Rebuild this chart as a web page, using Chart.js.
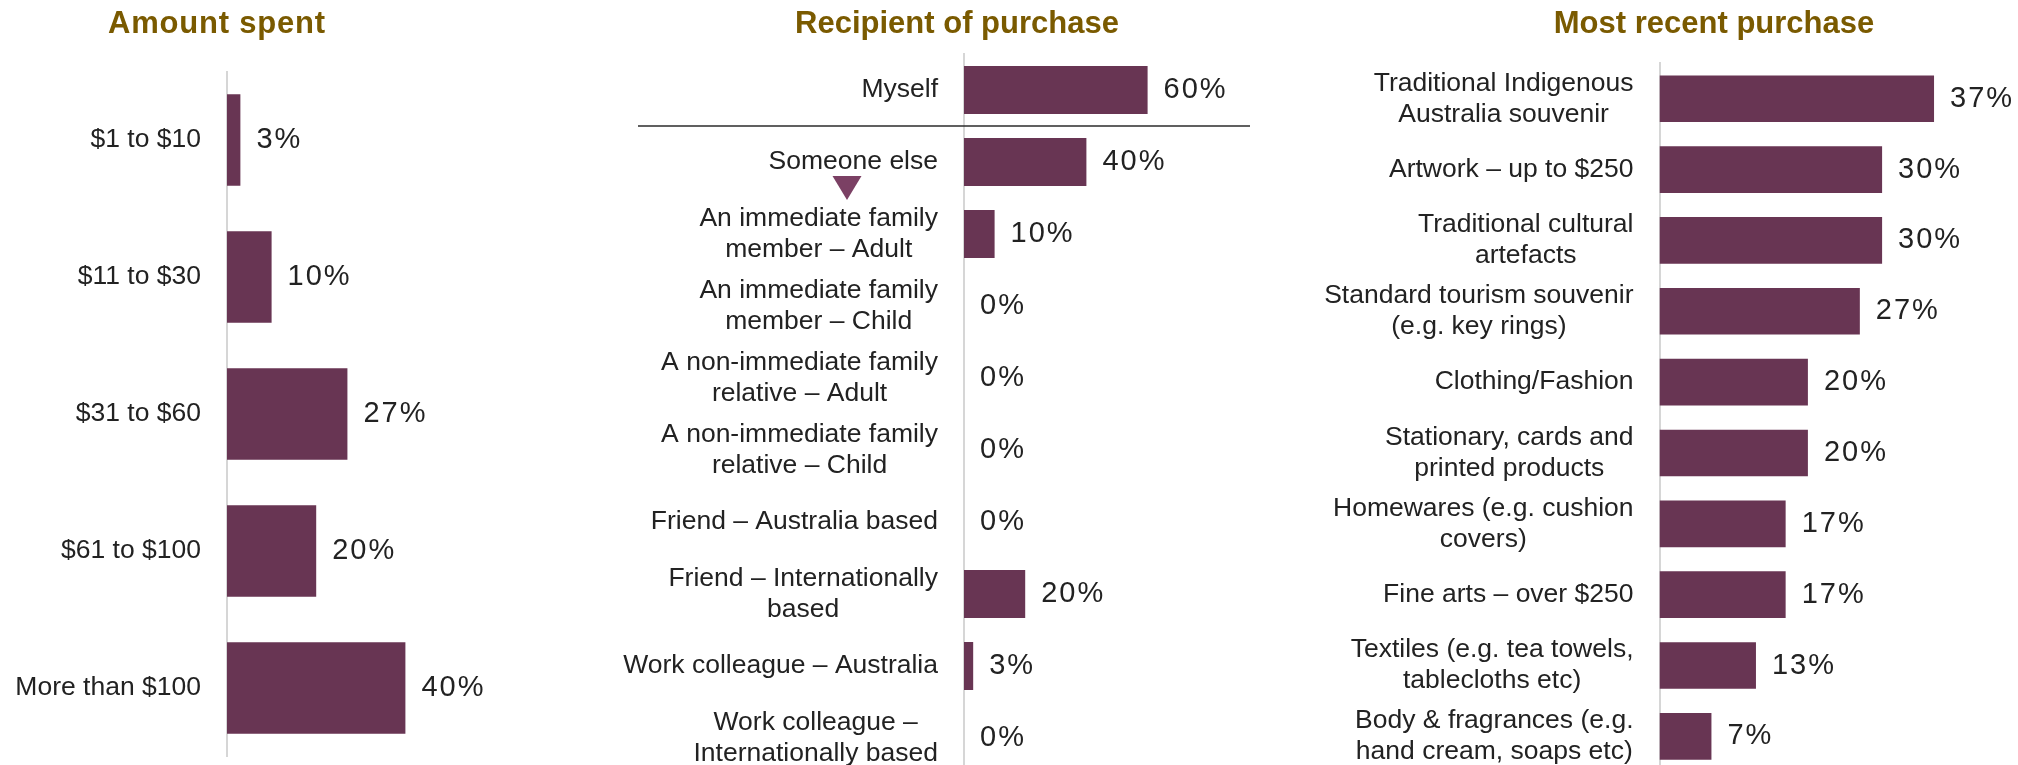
<!DOCTYPE html>
<html>
<head>
<meta charset="utf-8">
<script src="https://cdn.jsdelivr.net/npm/chart.js@4/dist/chart.umd.min.js"></script>
<style>
  body { margin: 0; width: 2018px; height: 765px; overflow: hidden; background: #fff; position: relative;
         font-family: "Liberation Sans", Arial, sans-serif; }
  canvas { position: absolute; top: 0; }
  .title { position: absolute; top: 7px; width: 420px; text-align: center; font-weight: bold;
           font-size: 31px; line-height: 31px; color: #7a5a00; }
</style>
</head>
<body>
<canvas id="amountChart" style="left:0px" width="580" height="765"></canvas>
<canvas id="recipientChart" style="left:600px" width="680" height="780"></canvas>
<canvas id="purchaseChart" style="left:1290px" width="728" height="780"></canvas>

<div class="title" style="left:7px; letter-spacing:0.8px">Amount spent</div>
<div class="title" style="left:747px">Recipient of purchase</div>
<div class="title" style="left:1504px">Most recent purchase</div>

<script>
//------ DONNEES --------//

// Montant dépensé
const amountLabels = ['$1 to $10', '$11 to $30', '$31 to $60', '$61 to $100', 'More than $100'];
const amountValues = [3, 10, 27, 20, 40];

// Destinataire de l'achat (les libellés sur deux lignes sont des tableaux)
const recipientLabels = [
  'Myself',
  'Someone else',
  ['An immediate family', 'member – Adult'],
  ['An immediate family', 'member – Child'],
  ['A non-immediate family', 'relative – Adult'],
  ['A non-immediate family', 'relative – Child'],
  'Friend – Australia based',
  ['Friend – Internationally', 'based'],
  'Work colleague – Australia',
  ['Work colleague –', 'Internationally based']
];
const recipientValues = [60, 40, 10, 0, 0, 0, 0, 20, 3, 0];

// Achat le plus récent
const purchaseLabels = [
  ['Traditional Indigenous', 'Australia souvenir'],
  'Artwork – up to $250',
  ['Traditional cultural', 'artefacts'],
  ['Standard tourism souvenir', '(e.g. key rings)'],
  'Clothing/Fashion',
  ['Stationary, cards and', 'printed products'],
  ['Homewares (e.g. cushion', 'covers)'],
  'Fine arts – over $250',
  ['Textiles (e.g. tea towels,', 'tablecloths etc)'],
  ['Body & fragrances (e.g.', 'hand cream, soaps etc)']
];
const purchaseValues = [37, 30, 30, 27, 20, 20, 17, 17, 13, 7];

//------ STYLES --------//
const barColor = '#683553';
const textColor = '#222222';
const labelFont = '26.5px "Liberation Sans", Arial, sans-serif';
const valueFont = '29px "Liberation Sans", Arial, sans-serif';
const lineHeight = 31;

// Libellés des catégories : lignes centrées entre elles, bloc collé à l'axe
const categoryLabels = {
  id: 'categoryLabels',
  afterDraw(chart) {
    const ctx = chart.ctx;
    const yScale = chart.scales.y;
    const right = chart.chartArea.left - 26;
    ctx.save();
    ctx.font = labelFont;
    ctx.fillStyle = textColor;
    ctx.textAlign = 'center';
    ctx.textBaseline = 'middle';
    chart.data.labels.forEach((label, i) => {
      const lines = Array.isArray(label) ? label : [label];
      const blockWidth = Math.max(...lines.map(l => ctx.measureText(l).width));
      const y = yScale.getPixelForValue(i);
      lines.forEach((line, j) => {
        ctx.fillText(line, right - blockWidth / 2, y + (j - (lines.length - 1) / 2) * lineHeight);
      });
    });
    ctx.restore();
  }
};

// Pourcentage écrit au bout de chaque barre
const valueLabels = {
  id: 'valueLabels',
  afterDatasetsDraw(chart) {
    const ctx = chart.ctx;
    const meta = chart.getDatasetMeta(0);
    const values = chart.data.datasets[0].data;
    ctx.save();
    ctx.font = valueFont;
    ctx.letterSpacing = '2px';
    ctx.fillStyle = textColor;
    ctx.textAlign = 'left';
    ctx.textBaseline = 'middle';
    meta.data.forEach((bar, i) => {
      ctx.fillText(values[i] + '%', bar.x + 16, bar.y);
    });
    ctx.restore();
  }
};

// Ligne sous "Myself" et petit triangle sous "Someone else"
const recipientMarks = {
  id: 'recipientMarks',
  afterDraw(chart) {
    const ctx = chart.ctx;
    const left = chart.chartArea.left;
    const yScale = chart.scales.y;
    const sepY = (yScale.getPixelForValue(0) + yScale.getPixelForValue(1)) / 2;
    ctx.save();
    ctx.strokeStyle = '#2b2b2b';
    ctx.lineWidth = 1.5;
    ctx.beginPath();
    ctx.moveTo(left - 326, sepY);
    ctx.lineTo(left + 286, sepY);
    ctx.stroke();

    const ty = yScale.getPixelForValue(1);
    ctx.fillStyle = '#7b4064';
    ctx.beginPath();
    ctx.moveTo(left - 131.5, ty + 14);
    ctx.lineTo(left - 102.5, ty + 14);
    ctx.lineTo(left - 117, ty + 38);
    ctx.closePath();
    ctx.fill();
    ctx.restore();
  }
};

// Fabrique un graphique en barres horizontales
function makeBarChart(canvasId, labels, values, cfg) {
  const canvas = document.getElementById(canvasId);
  const plotWidth = cfg.maxValue * cfg.pxPerPct;
  return new Chart(canvas.getContext('2d'), {
    type: 'bar',
    data: {
      labels: labels,
      datasets: [{
        data: values,
        backgroundColor: barColor,
        borderWidth: 0,
        barPercentage: 1,
        categoryPercentage: cfg.barShare
      }]
    },
    options: {
      indexAxis: 'y',
      responsive: false,
      animation: false,
      devicePixelRatio: 1,
      layout: {
        padding: {
          top: cfg.top,
          bottom: canvas.height - cfg.bottom,
          left: 0,
          right: canvas.width - cfg.axisWidth - plotWidth
        }
      },
      scales: {
        x: { display: false, min: 0, max: cfg.maxValue },
        y: {
          display: true,
          grid: { display: false },
          border: { display: true, color: '#d6d6d6', width: 2 },
          ticks: { display: false },
          afterFit(scale) { scale.width = cfg.axisWidth; }
        }
      },
      plugins: { legend: { display: false }, tooltip: { enabled: false } }
    },
    plugins: [categoryLabels, valueLabels].concat(cfg.extra || [])
  });
}

//------ LES TROIS GRAPHIQUES --------//

makeBarChart('amountChart', amountLabels, amountValues, {
  axisWidth: 227, maxValue: 70, pxPerPct: 4.46, top: 71.5, bottom: 756.5, barShare: 0.668
});

makeBarChart('recipientChart', recipientLabels, recipientValues, {
  axisWidth: 364, maxValue: 80, pxPerPct: 3.06, top: 54, bottom: 774, barShare: 0.667,
  extra: [recipientMarks]
});

makeBarChart('purchaseChart', purchaseLabels, purchaseValues, {
  axisWidth: 369.5, maxValue: 40, pxPerPct: 7.42, top: 63.3, bottom: 771.8, barShare: 0.658
});
</script>
</body>
</html>
